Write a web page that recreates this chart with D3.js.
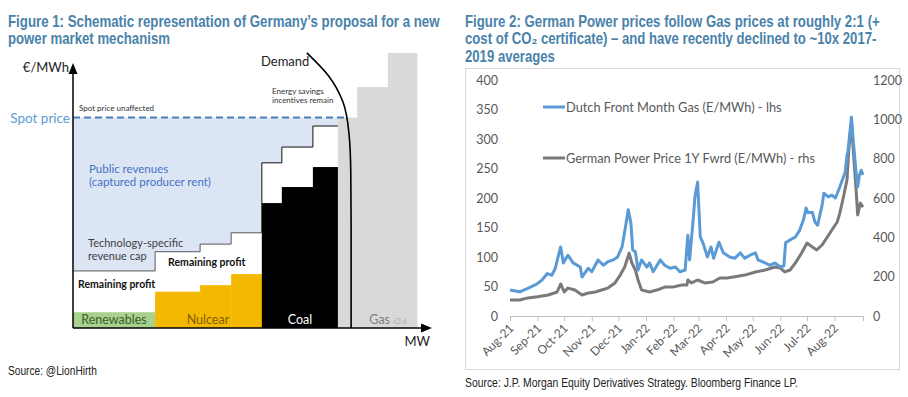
<!DOCTYPE html>
<html>
<head>
<meta charset="utf-8">
<script src="https://cdn.jsdelivr.net/npm/d3@7"></script>
<style>
  body { margin: 0; background: #fff; }
  svg { display: block; }
  .title { font-family: "Liberation Sans Narrow", "Arial Narrow", "Liberation Sans", sans-serif; font-weight: bold; font-size: 16px; fill: #4a82aa; }
  .source { font-family: "Liberation Sans Narrow", "Arial Narrow", "Liberation Sans", sans-serif; font-size: 12px; fill: #222; }
  .cal { font-family: Lato, "Noto Sans", sans-serif; }
</style>
</head>
<body>
<div id="chart"></div>
<script>
// ------------------------------------------------------------
// Figure 1 : merit order schematic (arbitrary units)
const meritTech = ["Renewables", "Nulcear", "Nulcear", "Nulcear", "Coal", "Coal", "Coal", "Gas", "Gas", "Gas"];
const meritMW   = [23, 12.6, 8.7, 8.6, 5.6, 8.7, 7.0, 5.4, 8.6, 8.2];
const meritCost = [6, 13.8, 16.3, 20.5, 47.5, 53.6, 61.2, 80, 91.6, 104.6];
const meritCap  = [21.7, 29.0, 31.9, 36.2, 62.8, 68.8, 76.8, null, null, null];
const spotPrice = 80;
const demandMW    = [65.5, 71.5, 75.6, 77.3, 77.8, 77.9, 77.9];
const demandPrice = [104.6, 96, 86, 74, 60, 40, 0];

// Figure 2 : Dutch TTF front month gas (lhs) vs German power 1Y fwd (rhs)
const gasDates = ["2021-08-09","2021-08-20","2021-08-29","2021-09-08","2021-09-14","2021-09-20","2021-09-25","2021-09-29",
  "2021-10-02","2021-10-05","2021-10-08","2021-10-13","2021-10-19","2021-10-27","2021-10-29","2021-11-05","2021-11-09",
  "2021-11-16","2021-11-22","2021-11-27","2021-12-03","2021-12-08","2021-12-13","2021-12-16","2021-12-20","2021-12-23",
  "2021-12-25","2021-12-28","2021-12-31","2022-01-04","2022-01-10","2022-01-13","2022-01-17","2022-01-25","2022-01-30",
  "2022-02-05","2022-02-11","2022-02-16","2022-02-22","2022-02-25","2022-02-27","2022-03-03","2022-03-05","2022-03-08",
  "2022-03-11","2022-03-14","2022-03-19","2022-03-23","2022-03-26","2022-04-01","2022-04-06","2022-04-13","2022-04-19",
  "2022-04-25","2022-04-30","2022-05-06","2022-05-12","2022-05-15","2022-05-23","2022-05-28","2022-06-03","2022-06-09",
  "2022-06-13","2022-06-15","2022-06-20","2022-06-26","2022-07-01","2022-07-05","2022-07-08","2022-07-10","2022-07-15",
  "2022-07-18","2022-07-21","2022-07-26","2022-07-28","2022-08-02","2022-08-06","2022-08-10","2022-08-15","2022-08-21",
  "2022-08-23","2022-08-24","2022-08-28","2022-08-30","2022-09-02","2022-09-04","2022-09-06","2022-09-08","2022-09-10"];
const gasPrice = [44,41,47,54,61,72,69,81,
  100,117,90,103,90,83,66,81,75,
  95,86,92,95,100,117,143,180,157,
  112,109,78,95,83,90,75,95,86,
  81,83,75,78,137,95,163,202,227,
  134,124,100,117,98,125,107,100,98,
  107,98,103,107,95,90,86,90,83,
  85,124,129,134,146,163,183,175,176,
  159,154,188,208,202,205,200,219,244,
  273,278,337,298,247,219,239,247,239];

const powerDates = ["2021-08-09","2021-08-20","2021-08-29","2021-09-09","2021-09-21","2021-10-01","2021-10-05","2021-10-09",
  "2021-10-13","2021-10-21","2021-10-29","2021-11-05","2021-11-13","2021-11-20","2021-11-27","2021-12-05","2021-12-11",
  "2021-12-16","2021-12-21","2021-12-24","2021-12-28","2021-12-31","2022-01-04","2022-01-13","2022-01-21","2022-01-30",
  "2022-02-08","2022-02-18","2022-02-24","2022-02-25","2022-03-01","2022-03-08","2022-03-16","2022-03-25","2022-04-02",
  "2022-04-10","2022-04-19","2022-04-30","2022-05-12","2022-05-23","2022-06-03","2022-06-09","2022-06-14","2022-06-20",
  "2022-06-26","2022-07-03","2022-07-09","2022-07-15","2022-07-20","2022-07-26","2022-08-01","2022-08-06","2022-08-12",
  "2022-08-15","2022-08-19","2022-08-23","2022-08-25","2022-08-28","2022-08-30","2022-09-02","2022-09-04","2022-09-07",
  "2022-09-10"];
const powerPrice = [81,81,92,98,107,122,163,122,
  142,132,107,117,122,132,142,168,208,
  249,320,270,234,183,132,122,132,147,
  147,158,158,183,168,183,168,173,193,
  193,200,208,224,234,249,244,224,234,
  270,320,371,351,336,361,402,437,478,
  524,605,692,844,986,844,656,514,574,
  554];

const lhsTicks = [0, 50, 100, 150, 200, 250, 300, 350, 400];
const rhsTicks = [0, 200, 400, 600, 800, 1000, 1200];
const legendNames = ["Dutch Front Month Gas (E/MWh) - lhs", "German Power Price 1Y Fwrd (E/MWh) - rhs"];

const canvWidth = 908, canvHeight = 397;
const svg = d3.select("#chart").append("svg")
    .attr("width", canvWidth)
    .attr("height", canvHeight);

//***********************************************
// titles and sources: no narrow font installed, so squeeze horizontally to the reference widths
function narrowText(cls, x, y, width, txt) {
  const t = svg.append("text").attr("class", cls).attr("x", 0).attr("y", 0).text(txt);
  const natural = t.node().getComputedTextLength();
  t.attr("transform", `translate(${x},${y}) scale(${Math.min(1, width / natural)},1)`);
  return t;
}

const titles = [
  {x: 8, lines: ["Figure 1: Schematic representation of Germany\u2019s proposal for a new", "power market mechanism"], widths: [432, 162]},
  {x: 465, lines: ["Figure 2: German Power prices follow Gas prices at roughly 2:1 (+", "cost of CO\u2082 certificate) \u2013 and have recently declined to ~10x 2017-", "2019 averages"], widths: [415, 412, 90]}
];
titles.forEach(t => {
  t.lines.forEach((line, i) => narrowText("title", t.x, 26.5 + i * 17.5, t.widths[i], line));
});

narrowText("source", 8, 375, 89, "Source: @LionHirth");
narrowText("source", 465, 387, 333, "Source: J.P. Morgan Equity Derivatives Strategy. Bloomberg Finance LP.");

//***********************************************
// Figure 1
const f1 = svg.append("g").attr("id", "figure-1");
const mx = d3.scaleLinear().domain([0, 100]).range([73, 430]);
const my = d3.scaleLinear().domain([0, 100]).range([328, 65]);

let acc = 0;
const blocks = meritTech.map((t, i) => {
  const b = {tech: t, x0: acc, x1: acc + meritMW[i], cost: meritCost[i], cap: meritCap[i]};
  acc += meritMW[i];
  return b;
});
const capped = blocks.filter(b => b.cap !== null);
const lastCapX = capped[capped.length - 1].x1;

// public revenues area under spot price
f1.append("rect")
    .attr("x", mx(0)).attr("y", my(spotPrice))
    .attr("width", mx(lastCapX) - mx(0)).attr("height", my(0) - my(spotPrice))
    .attr("fill", "#dce5f4");

// remaining profit (white) between cost and cap
f1.selectAll("rect.profit")
  .data(capped)
  .join("rect")
    .attr("class", "profit")
    .attr("x", d => mx(d.x0)).attr("y", d => my(d.cap))
    .attr("width", d => mx(d.x1) - mx(d.x0)).attr("height", d => my(0) - my(d.cap))
    .attr("fill", "#fff");

const techColor = {Renewables: "#a9d18e", Nulcear: "#f5b800", Coal: "#000", Gas: "#d9d9d9"};
f1.selectAll("rect.cost")
  .data(blocks)
  .join("rect")
    .attr("class", "cost")
    .attr("x", d => mx(d.x0)).attr("y", d => my(d.cost))
    .attr("width", d => mx(d.x1) - mx(d.x0) + 0.3).attr("height", d => my(0) - my(d.cost))
    .attr("fill", d => techColor[d.tech]);

// technology-specific revenue cap staircase
const capPts = [];
capped.forEach(b => { capPts.push([b.x0, b.cap]); capPts.push([b.x1, b.cap]); });
const stepIdx = capped.findIndex(b => b.tech === "Coal");
const capLine = d3.line().x(d => mx(d[0])).y(d => my(d[1]));
f1.append("path")
    .attr("d", capLine(capPts.slice(0, stepIdx * 2)))
    .attr("fill", "none").attr("stroke", "#595959").attr("stroke-width", 1);
f1.append("path")
    .attr("d", capLine([[capped[stepIdx].x0, capped[stepIdx - 1].cap]].concat(capPts.slice(stepIdx * 2))))
    .attr("fill", "none").attr("stroke", "#111").attr("stroke-width", 1);

// spot price
f1.append("line")
    .attr("x1", mx(0)).attr("x2", mx(demandMW[2] + 1.2))
    .attr("y1", my(spotPrice)).attr("y2", my(spotPrice))
    .attr("stroke", "#4a7fb5").attr("stroke-width", 2).attr("stroke-dasharray", "7,4");

// demand curve
f1.append("path")
    .datum(demandMW.map((m, i) => [m, demandPrice[i]]))
    .attr("d", d3.line().x(d => mx(d[0])).y(d => my(d[1])).curve(d3.curveMonotoneY))
    .attr("fill", "none").attr("stroke", "#000").attr("stroke-width", 1.6);

// axes with arrows
f1.append("line").attr("x1", mx(0)).attr("x2", mx(0)).attr("y1", my(0)).attr("y2", my(98))
    .attr("stroke", "#000").attr("stroke-width", 1.5);
f1.append("path").attr("d", `M${mx(0)},${my(100) - 2} l-4.5,11 l9,0 z`).attr("fill", "#000");
f1.append("line").attr("x1", mx(0)).attr("x2", mx(98)).attr("y1", my(0)).attr("y2", my(0))
    .attr("stroke", "#000").attr("stroke-width", 1.5);
f1.append("path").attr("d", `M${mx(100) + 2},${my(0)} l-11,-4.5 l0,9 z`).attr("fill", "#000");

// labels
const lab = (x, y, txt, opt = {}) => f1.append("text")
    .attr("class", "cal")
    .attr("x", x).attr("y", y)
    .attr("font-size", opt.size || 12)
    .attr("font-weight", opt.weight || "normal")
    .attr("fill", opt.color || "#333")
    .attr("text-anchor", opt.anchor || "start")
    .text(txt);

lab(mx(0) - 4, 72, "\u20ac/MWh", {size: 13, anchor: "end", color: "#222"});
lab(mx(100), 346, "MW", {size: 13, anchor: "end", color: "#222"});
lab(mx(0) - 3, my(spotPrice) + 5, "Spot price", {size: 13.5, anchor: "end", color: "#5b9bd5"});
lab(mx(0) + 6, my(spotPrice) - 7, "Spot price unaffected", {size: 8, color: "#333"});
lab(mx(0) + 16, 172.5, "Public revenues", {size: 11.5, color: "#4472c4"});
lab(mx(0) + 16, 186, "(captured producer rent)", {size: 11.5, color: "#4472c4"});
lab(mx(0) + 15, 246.5, "Technology-specific", {size: 11, color: "#404040"});
lab(mx(0) + 15, 259.5, "revenue cap", {size: 11, color: "#404040"});
lab(mx(0) + 5, 288, "Remaining profit", {size: 10.5, weight: "bold", color: "#111"});
lab(mx(blocks[1].x0) + 13, 265.5, "Remaining profit", {size: 10.5, weight: "bold", color: "#111"});
lab(mx(11.5), 324, "Renewables", {size: 12.5, anchor: "middle", color: "#3b5e2b"});
lab(mx(37.8), 324, "Nulcear", {size: 12.5, anchor: "middle", color: "#7f6000"});
lab(mx(63.6), 324, "Coal", {size: 12.5, anchor: "middle", color: "#fff"});
lab(mx(83), 324, "Gas", {size: 12.5, color: "#808080"});
lab(mx(83) + 23, 324, "\u2039O.\u0131l", {size: 8, color: "#aaa"});
lab(261, 66, "Demand", {size: 13, color: "#222"});
lab(272, 94, "Energy savings", {size: 8, color: "#333"});
lab(272, 103, "incentives remain", {size: 8, color: "#333"});

//***********************************************
// Figure 2
const f2 = svg.append("g").attr("id", "figure-2");
f2.append("rect")
    .attr("x", 465.5).attr("y", 68.5).attr("width", 434).attr("height", 301)
    .attr("fill", "none").attr("stroke", "#d9d9d9");

const parse = d3.timeParse("%Y-%m-%d");
const start = parse(gasDates[0]);
const end = parse(gasDates[gasDates.length - 1]);

const xScale = d3.scaleTime().domain([start, end]).range([510, 863]);
const yLhs = d3.scaleLinear().domain([0, 400]).range([316, 80]);
const yRhs = d3.scaleLinear().domain([0, 1200]).range([316, 80]);

const monthTicks = d3.range(13).map(i => d3.timeMonth.offset(start, i));
const xAxis = f2.append("g")
    .attr("transform", "translate(0,316)")
    .call(d3.axisBottom(xScale).tickValues(monthTicks).tickFormat(d3.timeFormat("%b-%y")).tickSizeOuter(0).tickSize(5));
xAxis.select(".domain").attr("stroke", "#bfbfbf");
xAxis.selectAll(".tick line").attr("stroke", "#bfbfbf");
xAxis.selectAll(".tick text")
    .attr("class", "cal")
    .attr("font-size", 12)
    .attr("fill", "#595959")
    .attr("text-anchor", "end")
    .attr("x", 0).attr("y", 0).attr("dy", 0)
    .attr("transform", "translate(4,13) rotate(-45)");

const lAxis = f2.append("g")
    .attr("transform", "translate(510,0)")
    .call(d3.axisLeft(yLhs).tickValues(lhsTicks).tickSize(0).tickPadding(12));
const rAxis = f2.append("g")
    .attr("transform", "translate(863,0)")
    .call(d3.axisRight(yRhs).tickValues(rhsTicks).tickFormat(d3.format("d")).tickSize(0).tickPadding(10));
[lAxis, rAxis].forEach(a => {
  a.select(".domain").remove();
  a.selectAll(".tick text").attr("class", "cal").attr("font-size", 12.5).attr("fill", "#595959");
});

const gasSeries = gasDates.map((d, i) => ({date: parse(d), v: gasPrice[i]}));
const powerSeries = powerDates.map((d, i) => ({date: parse(d), v: powerPrice[i]}));

f2.append("path")
    .datum(powerSeries)
    .attr("d", d3.line().x(d => xScale(d.date)).y(d => yRhs(d.v)))
    .attr("fill", "none").attr("stroke", "#7a7a7a").attr("stroke-width", 3).attr("stroke-linejoin", "round");
f2.append("path")
    .datum(gasSeries)
    .attr("d", d3.line().x(d => xScale(d.date)).y(d => yLhs(d.v)))
    .attr("fill", "none").attr("stroke", "#5b9bd5").attr("stroke-width", 3).attr("stroke-linejoin", "round");

// legend
const legendColor = ["#5b9bd5", "#7a7a7a"];
const legendY = [107, 158];
legendNames.forEach((name, i) => {
  f2.append("line")
      .attr("x1", 543).attr("x2", 565).attr("y1", legendY[i]).attr("y2", legendY[i])
      .attr("stroke", legendColor[i]).attr("stroke-width", 3);
  f2.append("text")
      .attr("class", "cal")
      .attr("x", 566).attr("y", legendY[i] + 4.5)
      .attr("font-size", 12.8).attr("fill", "#595959")
      .text(name);
});
</script>
</body>
</html>
